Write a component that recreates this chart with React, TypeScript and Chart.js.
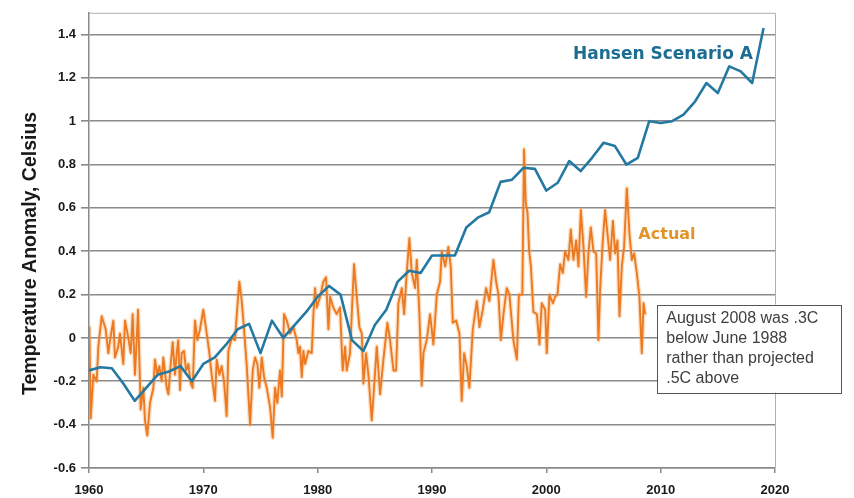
import React, { useEffect, useRef } from "react";
import { Chart, registerables } from "chart.js";

Chart.register(...registerables);

// Hansen Scenario A (annual projection)
const hansenYears = [
  1960, 1961, 1962, 1963, 1964, 1965, 1966, 1967, 1968, 1969,
  1970, 1971, 1972, 1973, 1974, 1975, 1976, 1977, 1978, 1979,
  1980, 1981, 1982, 1983, 1984, 1985, 1986, 1987, 1988, 1989,
  1990, 1991, 1992, 1993, 1994, 1995, 1996, 1997, 1998, 1999,
  2000, 2001, 2002, 2003, 2004, 2005, 2006, 2007, 2008, 2009,
  2010, 2011, 2012, 2013, 2014, 2015, 2016, 2017, 2018, 2019,
];
const hansenValues = [
  -0.15, -0.135, -0.14, -0.21, -0.29, -0.23, -0.17, -0.155, -0.13, -0.2,
  -0.12, -0.09, -0.03, 0.04, 0.065, -0.07, 0.08, 0.0, 0.06, 0.12,
  0.19, 0.24, 0.2, -0.01, -0.06, 0.06, 0.13, 0.26, 0.31, 0.3,
  0.38, 0.38, 0.38, 0.51, 0.555, 0.58, 0.72, 0.73, 0.785, 0.78,
  0.68, 0.716, 0.816, 0.77, 0.831, 0.9, 0.885, 0.8, 0.831, 1.0,
  0.992, 1.0, 1.03, 1.09, 1.176, 1.13, 1.253, 1.23, 1.176, 1.43,
];

// Actual (observed anomaly, sub-annual readings)
const actualYears = [
  1960.03, 1960.15, 1960.38, 1960.67, 1960.82, 1961.11, 1961.46, 1961.69, 1961.84, 1962.13,
  1962.27, 1962.56, 1962.71, 1963.0, 1963.15, 1963.44, 1963.65, 1963.82, 1964.02, 1964.17,
  1964.29, 1964.52, 1964.75, 1964.9, 1965.1, 1965.34, 1965.63, 1965.77, 1965.98, 1966.15,
  1966.36, 1966.5, 1966.8, 1966.94, 1967.15, 1967.32, 1967.52, 1967.67, 1967.81, 1967.96,
  1968.1, 1968.31, 1968.49, 1968.69, 1968.9, 1969.07, 1969.27, 1969.48, 1969.71, 1970.0,
  1970.3, 1970.53, 1970.73, 1971.02, 1971.17, 1971.4, 1971.6, 1971.81, 1972.04, 1972.19,
  1972.48, 1972.77, 1972.97, 1973.15, 1973.36, 1973.56, 1973.8, 1974.09, 1974.32, 1974.52,
  1974.73, 1974.9, 1975.11, 1975.31, 1975.55, 1975.84, 1976.07, 1976.27, 1976.47, 1976.71,
  1976.86, 1977.06, 1977.3, 1977.59, 1977.87, 1978.17, 1978.31, 1978.46, 1978.61, 1978.75,
  1978.9, 1979.19, 1979.48, 1979.63, 1979.77, 1979.92, 1980.21, 1980.5, 1980.73, 1980.94,
  1981.08, 1981.37, 1981.67, 1981.96, 1982.19, 1982.4, 1982.54, 1982.83, 1983.18, 1983.42,
  1983.65, 1983.86, 1984.0, 1984.23, 1984.44, 1984.73, 1984.93, 1985.17, 1985.46, 1985.75,
  1986.1, 1986.33, 1986.63, 1986.86, 1987.06, 1987.36, 1987.56, 1987.79, 1988.02, 1988.23,
  1988.52, 1988.67, 1988.9, 1989.1, 1989.25, 1989.54, 1989.83, 1990.12, 1990.42, 1990.71,
  1990.85, 1991.15, 1991.43, 1991.64, 1991.82, 1992.11, 1992.4, 1992.6, 1992.81, 1993.04,
  1993.27, 1993.57, 1993.92, 1994.15, 1994.44, 1994.73, 1995.02, 1995.37, 1995.61, 1995.81,
  1996.02, 1996.25, 1996.54, 1996.77, 1997.12, 1997.42, 1997.6, 1997.9, 1998.05, 1998.2,
  1998.35, 1998.5, 1998.65, 1998.87, 1999.17, 1999.4, 1999.6, 1999.9, 2000.04, 2000.27,
  2000.57, 2000.77, 2000.97, 2001.21, 2001.44, 2001.64, 2001.93, 2002.14, 2002.37, 2002.61,
  2002.81, 2003.02, 2003.25, 2003.48, 2003.68, 2003.89, 2004.12, 2004.36, 2004.56, 2004.71,
  2004.94, 2005.14, 2005.35, 2005.58, 2005.82, 2006.02, 2006.22, 2006.4, 2006.6, 2006.8,
  2007.04, 2007.27, 2007.48, 2007.68, 2007.91, 2008.14, 2008.35, 2008.5, 2008.64,
];
const actualValues = [
  0.05, -0.37, -0.17, -0.2, -0.04, 0.1, 0.04, -0.07, -0.01, 0.08,
  -0.09, -0.04, 0.02, -0.12, 0.08, 0.0, -0.07, 0.11, -0.17, -0.01,
  0.13, -0.33, -0.23, -0.38, -0.45, -0.3, -0.23, -0.1, -0.17, -0.13,
  -0.2, -0.09, -0.23, -0.26, -0.12, -0.02, -0.17, -0.07, -0.01, -0.24,
  -0.07, -0.06, -0.15, -0.12, -0.21, -0.23, 0.08, -0.01, 0.04, 0.13,
  0.02, -0.07, -0.17, -0.29, -0.1, -0.17, -0.13, -0.2, -0.36, -0.06,
  0.0, -0.01, 0.14, 0.26, 0.17, 0.04, -0.13, -0.4, -0.15, -0.09,
  -0.12, -0.23, -0.09, -0.18, -0.23, -0.32, -0.46, -0.23, -0.3, -0.15,
  -0.27, 0.11, 0.08, 0.02, 0.05, -0.01, -0.07, -0.04, -0.18, -0.06,
  -0.12, -0.06, -0.07, 0.11, 0.23, 0.14, 0.19, 0.26, 0.28, 0.04,
  0.19, 0.14, 0.11, 0.14, -0.15, -0.04, -0.15, -0.07, 0.34, 0.19,
  0.05, 0.02, -0.21, -0.07, -0.17, -0.38, -0.23, -0.04, -0.26, -0.1,
  0.07, -0.01, -0.15, -0.15, 0.16, 0.23, 0.11, 0.3, 0.46, 0.3,
  0.23, 0.36, 0.11, -0.22, -0.07, -0.01, 0.11, -0.03, 0.2, 0.26,
  0.4, 0.33, 0.42, 0.33, 0.07, 0.08, 0.02, -0.29, -0.07, -0.13,
  -0.23, 0.04, 0.17, 0.05, 0.13, 0.23, 0.17, 0.36, 0.26, 0.2,
  -0.01, 0.11, 0.23, 0.2, -0.01, -0.1, 0.2, 0.2, 0.87, 0.62,
  0.58, 0.4, 0.33, 0.12, 0.11, -0.03, 0.16, 0.13, -0.07, 0.2,
  0.16, 0.19, 0.2, 0.34, 0.3, 0.4, 0.36, 0.5, 0.36, 0.45,
  0.33, 0.59, 0.42, 0.19, 0.39, 0.51, 0.4, 0.39, -0.01, 0.23,
  0.45, 0.59, 0.48, 0.36, 0.54, 0.39, 0.45, 0.1, 0.33, 0.42,
  0.69, 0.48, 0.36, 0.39, 0.3, 0.19, -0.07, 0.16, 0.11,
];

const xTickYears = [1960, 1970, 1980, 1990, 2000, 2010, 2020];
const yTickValues = [-0.6, -0.4, -0.2, 0, 0.2, 0.4, 0.6, 0.8, 1, 1.2, 1.4];

const hansenLabel = "Hansen Scenario A";
const actualLabel = "Actual";
const yAxisTitle = "Temperature Anomaly, Celsius";
const noteLines = [
  "August 2008 was .3C",
  "below June 1988",
  "rather than projected",
  ".5C above",
];

const GRID = "#8a8a8a";
const BLUE = "#2479a2";
const ORANGE = "#eb7a22";

const overlayPlugin = {
  id: "overlay",
  beforeDatasetsDraw(chart: any) {
    const { ctx, chartArea } = chart;
    ctx.save();
    ctx.strokeStyle = "#b0b0b0";
    ctx.lineWidth = 1;
    ctx.beginPath();
    ctx.moveTo(chartArea.left, chartArea.top + 0.5);
    ctx.lineTo(chartArea.right + 0.5, chartArea.top + 0.5);
    ctx.lineTo(chartArea.right + 0.5, chartArea.bottom);
    ctx.stroke();
    ctx.restore();
  },
  afterDatasetsDraw(chart: any) {
    const { ctx, scales, chartArea } = chart;
    const xs = scales.x;
    const ys = scales.y;
    ctx.save();
    // y-axis title
    ctx.save();
    ctx.translate(31, (chartArea.top + chartArea.bottom) / 2 + 13);
    ctx.rotate(-Math.PI / 2);
    ctx.textAlign = "center";
    ctx.textBaseline = "middle";
    ctx.fillStyle = "#1a1a1a";
    ctx.font = 'bold 19.5px "Liberation Sans", Arial';
    ctx.fillText(yAxisTitle, 0, 0);
    ctx.restore();

    ctx.textBaseline = "middle";
    ctx.textAlign = "center";
    ctx.fillStyle = "#1d6c92";
    ctx.font = 'bold 17px "DejaVu Sans"';
    ctx.fillText(hansenLabel, xs.getPixelForValue(2010.2), ys.getPixelForValue(1.308));
    ctx.fillStyle = "#e2942a";
    ctx.font = 'bold 16px "DejaVu Sans"';
    ctx.fillText(actualLabel, xs.getPixelForValue(2010.55), ys.getPixelForValue(0.476));

    const bx = xs.getPixelForValue(2009.7);
    const by = ys.getPixelForValue(0.154);
    const bw = 184;
    const bh = 88;
    ctx.fillStyle = "#ffffff";
    ctx.fillRect(bx, by, bw, bh);
    ctx.strokeStyle = "#555555";
    ctx.lineWidth = 1;
    ctx.strokeRect(Math.round(bx) + 0.5, Math.round(by) + 0.5, bw, bh);
    ctx.fillStyle = "#404040";
    ctx.font = '16px "Liberation Sans", Arial';
    ctx.textAlign = "left";
    noteLines.forEach((line, i) => {
      ctx.fillText(line, bx + 9, by + 14 + i * 20);
    });
    ctx.restore();
  },
};

export default function App() {
  const canvasRef = useRef<HTMLCanvasElement | null>(null);

  useEffect(() => {
    const canvas = canvasRef.current;
    if (!canvas) return;
    const actualPoints = actualYears.map((x, i) => ({ x, y: actualValues[i] }));
    const chart = new Chart(canvas, {
      type: "line",
      data: {
        datasets: [
          {
            label: hansenLabel,
            data: hansenYears.map((x, i) => ({ x, y: hansenValues[i] })),
            borderColor: BLUE,
            borderWidth: 2.6,
            borderJoinStyle: "round",
            pointRadius: 0,
            tension: 0,
            fill: false,
          },
          {
            label: actualLabel,
            data: actualPoints,
            borderColor: ORANGE,
            borderWidth: 1.9,
            borderJoinStyle: "round",
            pointRadius: 0,
            tension: 0,
            fill: false,
          },
          {
            label: actualLabel + " halo",
            data: actualPoints,
            borderColor: "rgba(245, 160, 80, 0.35)",
            borderWidth: 4.5,
            borderJoinStyle: "round",
            borderCapStyle: "round",
            pointRadius: 0,
            tension: 0,
            fill: false,
          },
        ],
      },
      options: {
        animation: false,
        responsive: false,
        devicePixelRatio: 1,
        layout: { padding: { top: 11, right: 79, left: 0, bottom: 0 } },
        plugins: {
          legend: { display: false },
          tooltip: { enabled: false },
        },
        scales: {
          x: {
            type: "linear",
            min: 1960,
            max: 2020,
            afterBuildTicks: (s: any) => {
              s.ticks = xTickYears.map((v) => ({ value: v }));
            },
            afterFit: (s: any) => {
              s.height = 30;
            },
            ticks: {
              callback: (v: any) => String(v),
              font: { family: '"Liberation Sans", Arial', size: 13, weight: "bold" },
              color: "#1a1a1a",
              padding: 10,
              maxRotation: 0,
            },
            grid: {
              drawOnChartArea: false,
              drawTicks: true,
              tickLength: 5,
              color: GRID,
              lineWidth: 1.5,
            },
            border: { display: true, color: GRID, width: 1.5 },
          },
          y: {
            type: "linear",
            min: -0.6,
            max: 1.5,
            afterBuildTicks: (s: any) => {
              s.ticks = yTickValues.map((v) => ({ value: v }));
            },
            afterFit: (s: any) => {
              s.width = 89;
            },
            ticks: {
              callback: (v: any) => String(Math.round(Number(v) * 10) / 10),
              font: { family: '"Liberation Sans", Arial', size: 13, weight: "bold" },
              color: "#1a1a1a",
              padding: 5,
            },
            grid: {
              color: GRID,
              lineWidth: 1.6,
              tickLength: 8,
            },
            border: { display: true, color: GRID, width: 1.5 },
            title: { display: false },
          },
        },
      },
      plugins: [overlayPlugin],
    });
    return () => chart.destroy();
  }, []);

  return (
    <div style={{ position: "fixed", left: 0, top: 0, width: 854, height: 498, background: "#fff" }}>
      <canvas ref={canvasRef} width={854} height={498} />
    </div>
  );
}
